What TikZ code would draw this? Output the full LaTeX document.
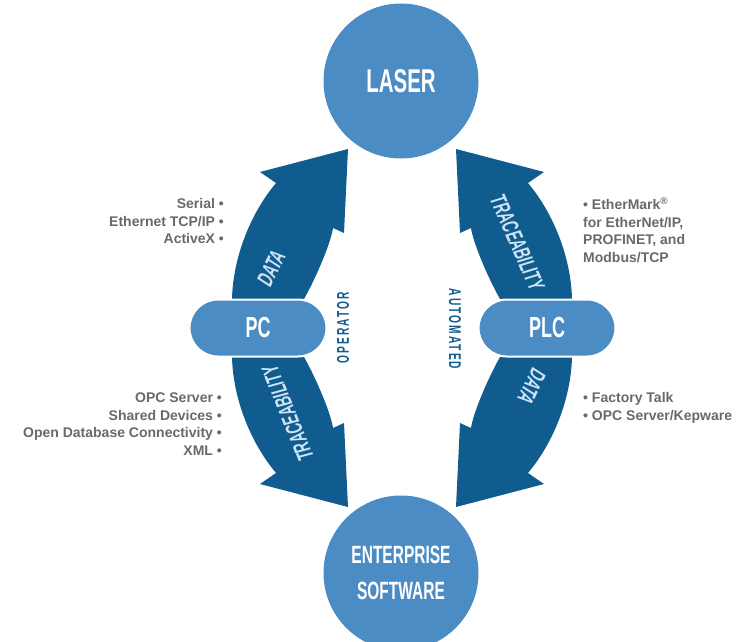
\documentclass[tikz,border=0pt]{standalone}
\usepackage{fontspec}
\setmainfont{Liberation Sans}
\newfontfamily\headfont{Liberation Sans}[FakeStretch=0.62]
\newfontfamily\tagfont{Liberation Sans}[FakeStretch=0.6,FakeSlant=0.12]
\newfontfamily\sidefont{Liberation Sans}[FakeStretch=0.6,LetterSpace=12]
\usetikzlibrary{shapes.misc}
\definecolor{ballblue}{RGB}{76,140,197}
\definecolor{arrowblue}{RGB}{16,92,143}
\definecolor{tagblue}{RGB}{205,228,246}
\definecolor{listgray}{RGB}{105,105,105}

\begin{document}
\begin{tikzpicture}[x=1pt,y=-1pt]
  \useasboundingbox (0,0) rectangle (747,642);
  \tikzstyle{every node}=[inner sep=0pt]
  \tikzstyle{ball}=[circle,fill=ballblue,text=white,minimum size=155pt,align=center]
  \tikzstyle{pill}=[rounded rectangle,fill=ballblue,draw=white,line width=2pt,text=white,
    minimum width=137pt,minimum height=57pt,font=\headfont\bfseries\fontsize{29}{29}\selectfont]
  \tikzstyle{tag}=[text=tagblue,font=\tagfont\bfseries\fontsize{23}{23}\selectfont]
  \tikzstyle{side}=[text=arrowblue,font=\sidefont\bfseries\fontsize{17}{17}\selectfont]
  \tikzstyle{list}=[text=listgray,font=\bfseries\fontsize{14}{17.5}\selectfont]

  % the four block arrows, mirrored round the middle
  \foreach \sx/\sy in {1/1,-1/1,1/-1,-1/-1}
    \fill[arrowblue,shift={(402,328)},xscale=\sx,yscale=\sy,shift={(-402,-328)}]
      (232,299) .. controls (233,258) and (250,214) .. (276,183) -- (260,172)
      -- (348,149) -- (344,233) -- (333,228)
      .. controls (331,242) and (317,276) .. (304,299) -- cycle;

  \node[ball,font=\headfont\bfseries\fontsize{33}{33}\selectfont] (laser) at (401,81) {LASER};
  \node[ball,font=\headfont\bfseries\fontsize{25}{36}\selectfont] (ent) at (401,573)
    {ENTERPRISE\\SOFTWARE};
  \node[pill] (pc) at (258,328) {PC};
  \node[pill] (plc) at (547,328) {PLC};

  \node[side,rotate=90] (oper) at (343,328) {OPERATOR};
  \node[side,rotate=-90] (auto) at (455,329) {AUTOMATED};

  \node[tag,rotate=64] (data1) at (271,269) {DATA};
  \node[tag,rotate=112] (trace1) at (288,414) {TRACEABILITY};
  \node[tag,rotate=-66] (trace2) at (517,242) {TRACEABILITY};
  \node[tag,rotate=-116] (data2) at (532,386) {DATA};

  \node[list,anchor=east,align=right] (pclist) at (224,221)
    {Serial •\\Ethernet TCP/IP •\\ActiveX •};
  \node[list,anchor=east,align=right] (dblist) at (222,424)
    {OPC Server •\\Shared Devices •\\Open Database Connectivity •\\XML •};
  \node[list,anchor=west,align=left] (plclist) at (583,230)
    {• EtherMark\textsuperscript{®}\\for EtherNet/IP,\\PROFINET, and\\Modbus/TCP};
  \node[list,anchor=west,align=left] (talklist) at (583,408)
    {• Factory Talk\\• OPC Server/Kepware};
\end{tikzpicture}
\end{document}
